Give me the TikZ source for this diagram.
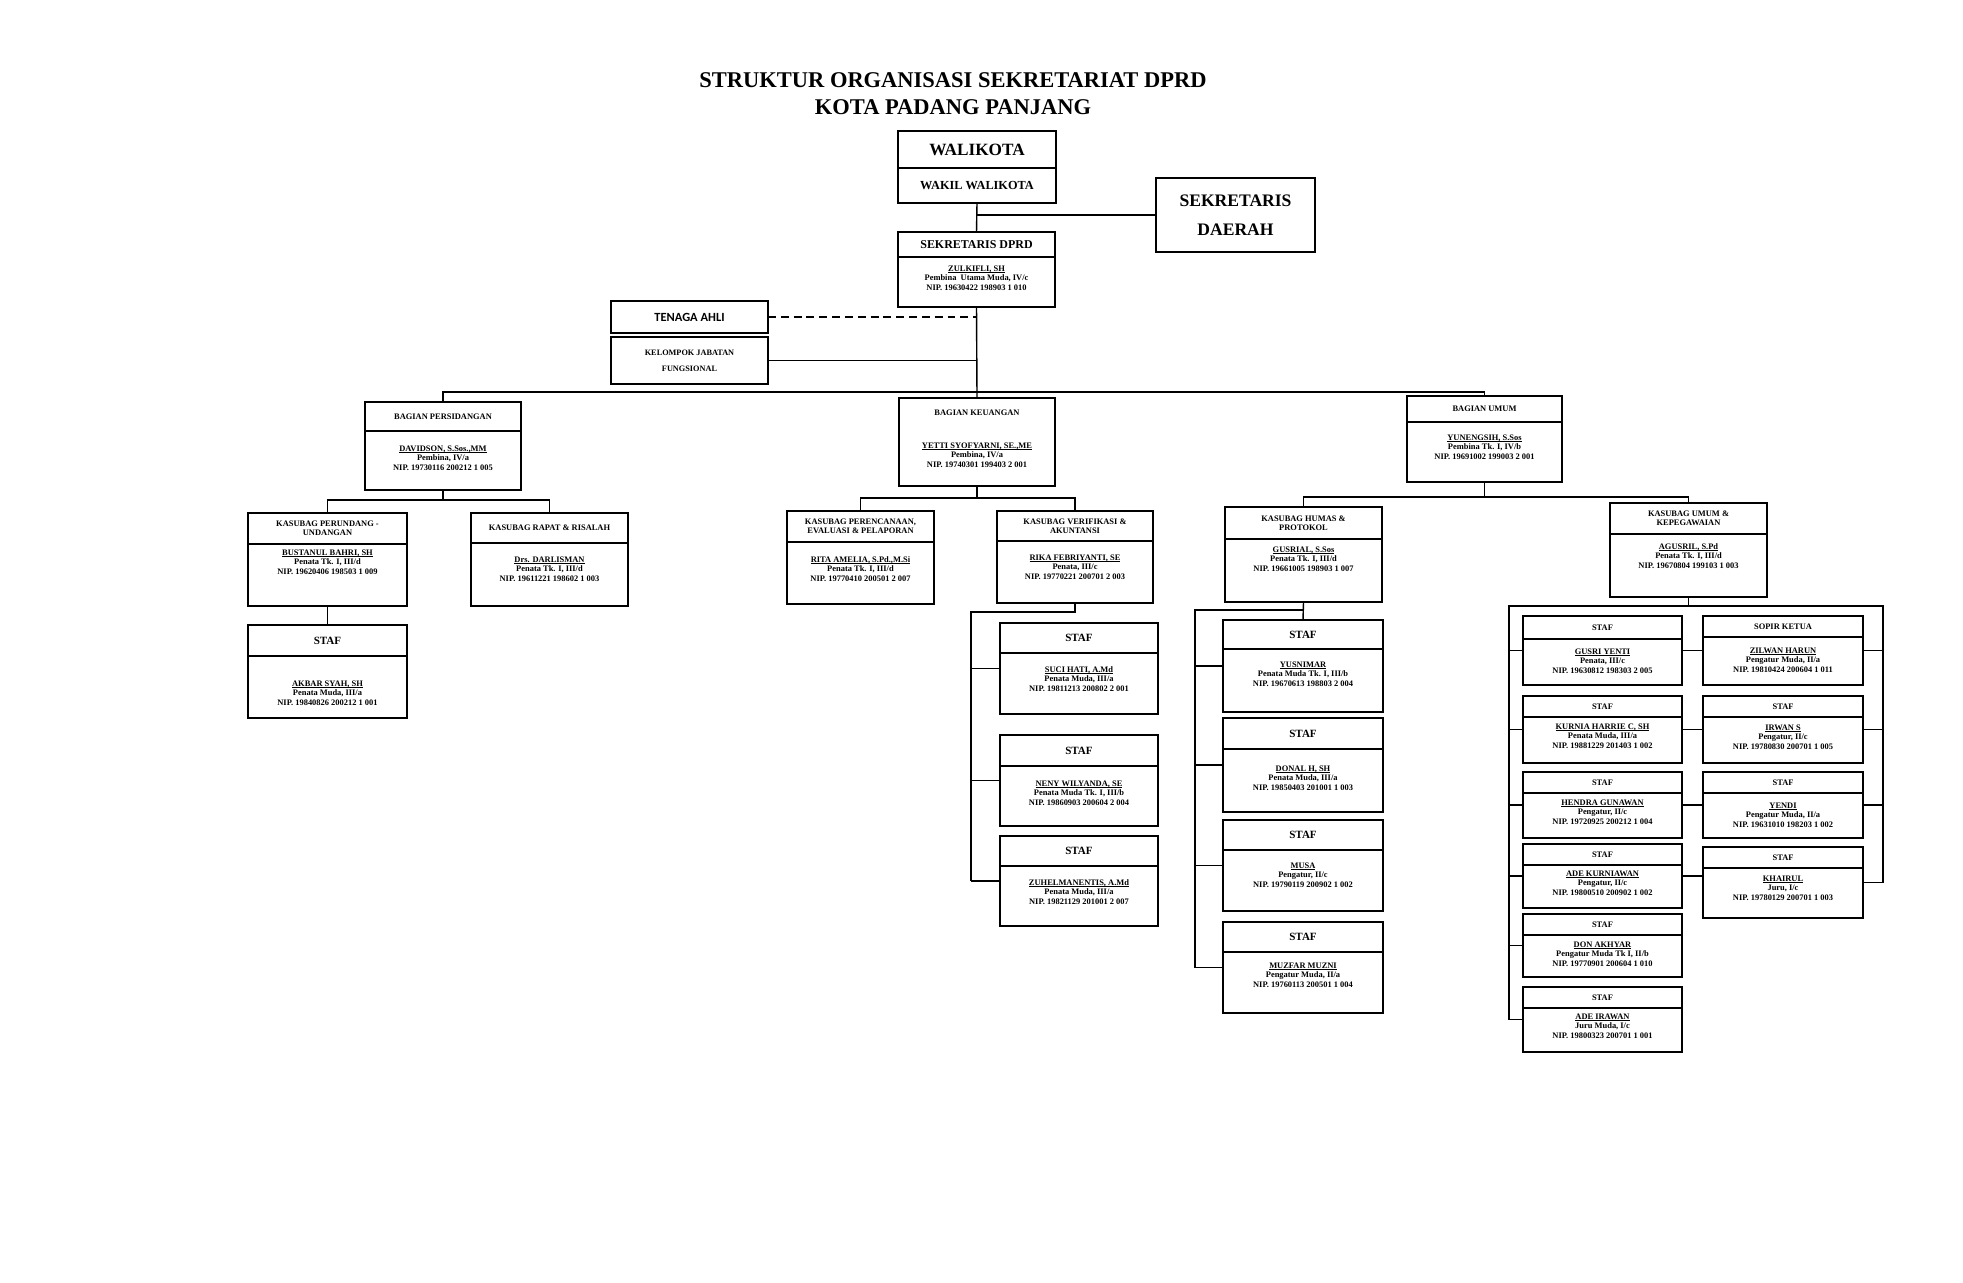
\documentclass[tikz,border=0pt]{standalone}
\usepackage{fontspec}
\setmainfont{Liberation Serif}
\newfontfamily\calibri{Carlito}
\usepackage{tikz}
\usetikzlibrary{positioning, calc}

\begin{document}
\begin{tikzpicture}[x=0.02cm, y=-0.02cm, line width=0.8pt,
    kepala/.style={draw, inner sep=0pt, outer sep=0pt, align=center, font=\fontsize{4.8}{5.2}\selectfont\bfseries},
    badan/.style={draw, inner sep=0pt, outer sep=0pt},
    isi/.style={inner sep=0pt, align=center, font=\fontsize{4.8}{5.4}\selectfont\bfseries}]

    % 枠とボックスの定義
    \def\kotak#1#2#3#4#5#6#7#8#9{%
        \node[kepala, minimum width={(#3-#2)*0.02cm}, minimum height={(#5-#4)*0.02cm}] (#1) at ({(#2+#3)/2},{(#4+#5)/2}) {#8};
        \node[badan, minimum width={(#3-#2)*0.02cm}, minimum height={(#6-#5)*0.02cm}] (#1-b) at ({(#2+#3)/2},{(#5+#6)/2}) {};
        \node[isi] (#1-t) at ({(#2+#3)/2},#7) {#9};
        \coordinate (#1-w) at (#2,{(#4+#6)/2});
        \coordinate (#1-e) at (#3,{(#4+#6)/2});
    }
    \def\STAF{{\fontsize{6.3}{7}\selectfont STAF}}
    % 下線
    \def\garis#1{\setbox0\hbox{#1}\rlap{\vrule width\wd0 height -0.55pt depth 0.85pt}\box0}

    % 背景
    \fill[white] (0,0) rectangle (1963,1282);
    \useasboundingbox (0,0) rectangle (1963,1282);

    % タイトル
    \node[align=center, font=\fontsize{12.8}{15.4}\selectfont\bfseries] (judul) at (953,94) {STRUKTUR ORGANISASI SEKRETARIAT DPRD\\KOTA PADANG PANJANG};

    % 上部
    \node[badan, minimum width={158*0.02cm}, minimum height={37*0.02cm}, font=\fontsize{9.8}{11}\selectfont\bfseries] (walikota) at (977,149.5) {WALIKOTA};
    \node[badan, minimum width={158*0.02cm}, minimum height={35*0.02cm}, font=\fontsize{7}{8}\selectfont\bfseries] (wakil) at (977,185.5) {WAKIL WALIKOTA};
    \node[badan, minimum width={159*0.02cm}, minimum height={74*0.02cm}, align=center, font=\fontsize{10}{16.5}\selectfont\bfseries] (sekda) at (1235.5,215) {SEKRETARIS\\DAERAH};
    \kotak{sdprd}{898}{1055}{232}{257}{307}{278}{{\fontsize{6.8}{8}\selectfont SEKRETARIS DPRD}}{\garis{ZULKIFLI, SH}\\Pembina\ \ Utama Muda, IV/c\\NIP. 19630422 198903 1 010}

    \node[badan, minimum width={157*0.02cm}, minimum height={32*0.02cm}, font=\calibri\fontsize{7.1}{8}\selectfont\bfseries] (ahli) at (689.5,317) {TENAGA AHLI};
    \node[badan, minimum width={157*0.02cm}, minimum height={47*0.02cm}, align=center, font=\fontsize{4.7}{9}\selectfont\bfseries] (fungsi) at (689.5,360.5) {KELOMPOK JABATAN\\FUNGSIONAL};

    % バギアン
    \kotak{pers}{365}{521}{402}{431}{490}{458}{BAGIAN PERSIDANGAN}{\garis{DAVIDSON, S.Sos.,MM}\\Pembina, IV/a\\NIP. 19730116 200212 1 005}
    \node[badan, minimum width={156*0.02cm}, minimum height={88*0.02cm}] (keu) at (977,442) {};
    \node[isi] (keu-h) at (977,413) {BAGIAN KEUANGAN};
    \node[isi] (keu-t) at (977,455) {\garis{YETTI SYOFYARNI, SE.,ME}\\Pembina, IV/a\\NIP. 19740301 199403 2 001};
    \kotak{umum}{1407}{1562}{396}{422}{482}{447}{BAGIAN UMUM}{\garis{YUNENGSIH, S.Sos}\\Pembina Tk. I, IV/b\\NIP. 19691002 199003 2 001}

    % 係
    \kotak{pud}{248}{407}{513}{544}{606}{562}{KASUBAG PERUNDANG -\\UNDANGAN}{\garis{BUSTANUL BAHRI, SH}\\Penata Tk. I, III/d\\NIP. 19620406 198503 1 009}
    \kotak{rapat}{471}{628}{513}{543}{606}{569}{KASUBAG RAPAT \& RISALAH}{\garis{Drs. DARLISMAN}\\Penata Tk. I, III/d\\NIP. 19611221 198602 1 003}
    \kotak{akbar}{248}{407}{625}{656}{718}{693}{\STAF}{\garis{AKBAR SYAH, SH}\\Penata Muda, III/a\\NIP. 19840826 200212 1 001}

    \kotak{renc}{787}{934}{511}{542}{604}{569}{KASUBAG PERENCANAAN,\\EVALUASI \& PELAPORAN}{\garis{RITA AMELIA, S.Pd.,M.Si}\\Penata Tk. I, III/d\\NIP. 19770410 200501 2 007}
    \kotak{verif}{997}{1153}{511}{541}{603}{567}{KASUBAG VERIFIKASI \&\\AKUNTANSI}{\garis{RIKA FEBRIYANTI, SE}\\Penata, III/c\\NIP. 19770221 200701 2 003}
    \kotak{suci}{1000}{1158}{623}{653}{714}{679}{\STAF}{\garis{SUCI HATI, A.Md}\\Penata Muda, III/a\\NIP. 19811213 200802 2 001}
    \kotak{neny}{1000}{1158}{735}{766}{826}{793}{\STAF}{\garis{NENY WILYANDA, SE}\\Penata Muda Tk. I, III/b\\NIP. 19860903 200604 2 004}
    \kotak{zuhel}{1000}{1158}{836}{866}{926}{892}{\STAF}{\garis{ZUHELMANENTIS, A.Md}\\Penata Muda, III/a\\NIP. 19821129 201001 2 007}

    \kotak{humas}{1225}{1382}{507}{539}{602}{559}{KASUBAG HUMAS \&\\PROTOKOL}{\garis{GUSRIAL, S.Sos}\\Penata Tk. I, III/d\\NIP. 19661005 198903 1 007}
    \kotak{yusni}{1223}{1383}{620}{649}{712}{674}{\STAF}{\garis{YUSNIMAR}\\Penata Muda Tk. I, III/b\\NIP. 19670613 198803 2 004}
    \kotak{donal}{1223}{1383}{718}{749}{812}{778}{\STAF}{\garis{DONAL H, SH}\\Penata Muda, III/a\\NIP. 19850403 201001 1 003}
    \kotak{musa}{1223}{1383}{820}{850}{911}{875}{\STAF}{\garis{MUSA}\\Pengatur, II/c\\NIP. 19790119 200902 1 002}
    \kotak{muzfar}{1223}{1383}{922}{952}{1013}{975}{\STAF}{\garis{MUZFAR MUZNI}\\Pengatur Muda, II/a\\NIP. 19760113 200501 1 004}

    \kotak{kum}{1610}{1767}{503}{534}{597}{556}{KASUBAG UMUM \&\\KEPEGAWAIAN}{\garis{AGUSRIL, S.Pd}\\Penata Tk. I, III/d\\NIP. 19670804 199103 1 003}
    \kotak{gusri}{1523}{1682}{616}{639}{685}{661}{STAF}{\garis{GUSRI YENTI}\\Penata, III/c\\NIP. 19630812 198303 2 005}
    \kotak{kurnia}{1523}{1682}{696}{717}{763}{736}{STAF}{\garis{KURNIA HARRIE C, SH}\\Penata Muda, III/a\\NIP. 19881229 201403 1 002}
    \kotak{hendra}{1523}{1682}{772}{793}{838}{812}{STAF}{\garis{HENDRA GUNAWAN}\\Pengatur, II/c\\NIP. 19720925 200212 1 004}
    \kotak{adek}{1523}{1682}{844}{865}{908}{883}{STAF}{\garis{ADE KURNIAWAN}\\Pengatur, II/c\\NIP. 19800510 200902 1 002}
    \kotak{don}{1523}{1682}{914}{935}{977}{954}{STAF}{\garis{DON AKHYAR}\\Pengatur Muda Tk I, II/b\\NIP. 19770901 200604 1 010}
    \kotak{adei}{1523}{1682}{987}{1008}{1052}{1026}{STAF}{\garis{ADE IRAWAN}\\Juru Muda, I/c\\NIP. 19800323 200701 1 001}
    \kotak{sopir}{1703}{1863}{616}{637}{685}{660}{SOPIR KETUA}{\garis{ZILWAN HARUN}\\Pengatur Muda, II/a\\NIP. 19810424 200604 1 011}
    \kotak{irwan}{1703}{1863}{696}{717}{763}{737}{STAF}{\garis{IRWAN S}\\Pengatur, II/c\\NIP. 19780830 200701 1 005}
    \kotak{yendi}{1703}{1863}{772}{793}{838}{815}{STAF}{\garis{YENDI}\\Pengatur Muda, II/a\\NIP. 19631010 198203 1 002}
    \kotak{khairul}{1703}{1863}{847}{868}{918}{888}{STAF}{\garis{KHAIRUL}\\Juru, I/c\\NIP. 19780129 200701 1 003}

    % 線（上部）
    \draw (wakil.south) -- (sdprd.north);
    \draw (sekda.west) -- (sekda.west -| wakil.south);
    \draw[dash pattern=on 4.5pt off 2.8pt] (ahli.east) -- (ahli.east -| sdprd-b.south);
    \draw (fungsi.east) -- (fungsi.east -| sdprd-b.south);
    \draw (sdprd-b.south) -- (keu.north);
    \coordinate (bus) at (977,392);
    \draw (pers.north) |- (bus) -| (umum.north);

    % 線（バギアン）
    \draw (pers-b.south) -- ++(0,10) coordinate (pj);
    \draw (pud.north) |- (pj) -| (rapat.north);
    \draw (pud-b.south) -- (akbar.north);
    \draw (keu.south) -- ++(0,12) coordinate (kj);
    \draw (renc.north) |- (kj) -| (verif.north);
    \draw (umum-b.south) -- ++(0,15) coordinate (uj);
    \draw (humas.north) |- (uj) -| (kum.north);

    % 線（スタッフ）
    \coordinate (kk) at (971,612);
    \draw (verif-b.south) |- (kk) -- (kk |- zuhel-w);
    \draw (kk |- suci-w) -- (suci-w);
    \draw (kk |- neny-w) -- (neny-w);
    \draw (kk |- zuhel-w) -- (zuhel-w);

    \coordinate (hh) at (1195,610);
    \draw (humas-b.south) -- (yusni.north);
    \draw (humas-b.south |- hh) -- (hh) -- (hh |- muzfar-w);
    \draw (hh |- yusni-w) -- (yusni-w);
    \draw (hh |- donal-w) -- (donal-w);
    \draw (hh |- musa-w) -- (musa-w);
    \draw (hh |- muzfar-w) -- (muzfar-w);

    \coordinate (ul) at (1509,606);
    \coordinate (ur) at (1883,606);
    \draw (kum-b.south) -- (kum-b.south |- ul);
    \draw (ul |- adei-w) -- (ul) -- (ur) -- (ur |- khairul-e);
    \draw (ul |- gusri-w) -- (gusri-w);
    \draw (ul |- kurnia-w) -- (kurnia-w);
    \draw (ul |- hendra-w) -- (hendra-w);
    \draw (ul |- adek-w) -- (adek-w);
    \draw (ul |- don-w) -- (don-w);
    \draw (ul |- adei-w) -- (adei-w);
    \draw (gusri-e) -- (gusri-e -| sopir-w);
    \draw (kurnia-e) -- (kurnia-e -| irwan-w);
    \draw (hendra-e) -- (hendra-e -| yendi-w);
    \draw (adek-e) -- (adek-e -| khairul-w);
    \draw (sopir-e) -- (ur |- sopir-e);
    \draw (irwan-e) -- (ur |- irwan-e);
    \draw (yendi-e) -- (ur |- yendi-e);
    \draw (khairul-e) -- (ur |- khairul-e);
\end{tikzpicture}
\end{document}
